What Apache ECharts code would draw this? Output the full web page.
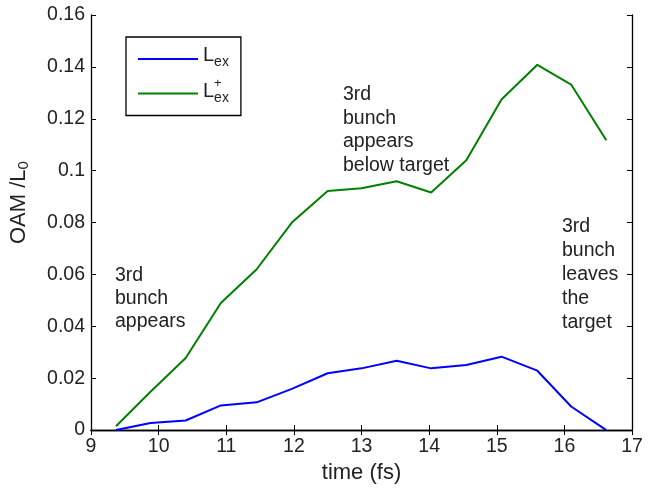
<!DOCTYPE html>
<html>
<head>
<meta charset="utf-8">
<script src="https://cdn.jsdelivr.net/npm/echarts@6/dist/echarts.min.js"></script>
<style>
  html, body { margin: 0; padding: 0; background: #fff; }
  #chart { width: 655px; height: 489px; }
</style>
</head>
<body>
<div id="chart"></div>
<script>
  // time axis (fs)
  var timeFs = [9.37, 9.88, 10.4, 10.92, 11.45, 11.97, 12.5, 13.0, 13.52, 14.03, 14.55, 15.07, 15.6, 16.1, 16.62]
  // L_ex
  var lex = [0, 0.0027, 0.0037, 0.0095, 0.0107, 0.0159, 0.0219, 0.0238, 0.0267, 0.0238, 0.0251, 0.0283, 0.0229, 0.0091, 0]
  // L_ex^+
  var lexPlus = [0.0015, 0.0148, 0.0278, 0.0490, 0.0620, 0.0800, 0.0922, 0.0932, 0.0959, 0.0916, 0.1040, 0.1274, 0.1408, 0.1332, 0.1117]

  function pairs(xs, ys) {
    return xs.map(function (x, i) { return [x, ys[i]] })
  }

  var font = 'Liberation Sans, Arial, Helvetica, sans-serif'
  var fs = 19.5

  var chart = echarts.init(document.getElementById('chart'))
  chart.setOption({
    animation: false,
    backgroundColor: '#fff',
    textStyle: { fontFamily: font },
    grid: { left: 89, right: 23, top: 15, bottom: 57, containLabel: false },
    legend: {
      orient: 'vertical',
      left: 126,
      top: 37,
      width: 117,
      padding: [8, 12, 6, 12],
      itemGap: 4,
      itemWidth: 60,
      itemHeight: 2,
      borderColor: '#000',
      borderWidth: 1.3,
      icon: 'rect',
      data: ['Lex', 'Lex+'],
      formatter: function (name) {
        if (name === 'Lex') return '{L|L}{sub|ex}'
        return '{sup|+}\n{L|L}{sub|ex}'
      },
      textStyle: {
        fontFamily: font,
        color: '#222',
        rich: {
          L: { fontSize: 20, lineHeight: 20, padding: [0, 0, 8, 0], color: '#222' },
          sub: { fontSize: 14, lineHeight: 20, verticalAlign: 'bottom', padding: [10, 0, 0, 0], color: '#222' },
          sup: { fontSize: 13, lineHeight: 4, padding: [0, 0, 0, 11], color: '#222' }
        }
      }
    },
    xAxis: [{
      type: 'value',
      min: 9,
      max: 17,
      interval: 1,
      name: 'time (fs)',
      nameLocation: 'middle',
      nameGap: 29,
      nameTextStyle: { fontFamily: font, fontSize: 22, color: '#222' },
      axisLine: { show: true, lineStyle: { color: '#000', width: 1.3 } },
      axisTick: { show: true, inside: true, length: 5, lineStyle: { color: '#000' } },
      axisLabel: { margin: 7, fontFamily: font, fontSize: fs, color: '#222' },
      splitLine: { show: false }
    }, {
      type: 'value',
      position: 'top',
      min: 9,
      max: 17,
      interval: 1,
      axisLine: { show: true, lineStyle: { color: '#000', width: 1.3 } },
      axisTick: { show: true, inside: true, length: 5, lineStyle: { color: '#000' } },
      axisLabel: { show: false },
      splitLine: { show: false }
    }],
    yAxis: [{
      type: 'value',
      min: 0,
      max: 0.16,
      interval: 0.02,
      name: '{a|OAM /L}{s|0}',
      nameLocation: 'middle',
      nameGap: 60,
      nameRotate: 90,
      nameTextStyle: {
        padding: [0, 0, 0, 40],
        rich: {
          a: { fontFamily: font, fontSize: 22, color: '#222' },
          s: { fontFamily: font, fontSize: 15, color: '#222', padding: [9, 0, 0, 0] }
        }
      },
      axisLine: { show: true, lineStyle: { color: '#000', width: 1.3 } },
      axisTick: { show: true, inside: true, length: 5, lineStyle: { color: '#000' } },
      axisLabel: {
        margin: 6,
        fontFamily: font,
        fontSize: fs,
        color: '#222',
        formatter: function (v) { return v === 0 ? '0' : String(+v.toFixed(2)) }
      },
      splitLine: { show: false }
    }, {
      type: 'value',
      position: 'right',
      min: 0,
      max: 0.16,
      interval: 0.02,
      axisLine: { show: true, lineStyle: { color: '#000', width: 1.3 } },
      axisTick: { show: true, inside: true, length: 5, lineStyle: { color: '#000' } },
      axisLabel: { show: false },
      splitLine: { show: false }
    }],
    series: [{
      name: 'Lex',
      type: 'line',
      data: pairs(timeFs, lex),
      showSymbol: false,
      lineStyle: { color: '#0000ff', width: 2 },
      itemStyle: { color: '#0000ff' }
    }, {
      name: 'Lex+',
      type: 'line',
      data: pairs(timeFs, lexPlus),
      showSymbol: false,
      lineStyle: { color: '#008000', width: 2 },
      itemStyle: { color: '#008000' }
    }],
    graphic: [{
      type: 'text', left: 115, top: 264,
      style: { text: '3rd\nbunch\nappears', font: fs + 'px ' + font, lineHeight: 23, fill: '#222' }
    }, {
      type: 'text', left: 343, top: 83,
      style: { text: '3rd\nbunch\nappears\nbelow target', font: fs + 'px ' + font, lineHeight: 23.5, fill: '#222' }
    }, {
      type: 'text', left: 562, top: 215,
      style: { text: '3rd\nbunch\nleaves\nthe\ntarget', font: fs + 'px ' + font, lineHeight: 24, fill: '#222' }
    }]
  })
</script>
</body>
</html>
